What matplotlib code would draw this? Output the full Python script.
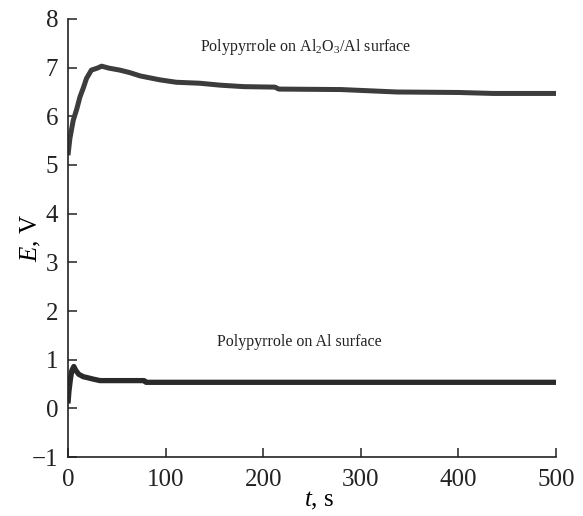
import matplotlib
matplotlib.use("Agg")
import matplotlib.pyplot as plt

plt.rcParams['font.family'] = ['Liberation Serif', 'DejaVu Serif']
plt.rcParams['mathtext.fontset'] = 'custom'
plt.rcParams['mathtext.rm'] = 'Liberation Serif'
plt.rcParams['mathtext.it'] = 'Liberation Serif:italic'

# Polypyrrole on Al2O3/Al surface
t_oxide = [0, 2, 5.4, 9, 12.3, 16, 19, 24, 30, 34.5, 42, 53, 63, 74, 84, 94, 111, 135,
           156, 180, 212, 216, 280, 337, 400, 436, 470, 500]
E_oxide = [5.2, 5.55, 5.92, 6.15, 6.40, 6.6, 6.78, 6.95, 6.99, 7.03, 6.99, 6.95, 6.9,
           6.83, 6.79, 6.75, 6.70, 6.68, 6.64, 6.61, 6.60, 6.56, 6.55, 6.50, 6.49, 6.47,
           6.47, 6.47]

# Polypyrrole on Al surface
t_al = [0, 1, 2.5, 4, 6, 8, 11, 15.7, 20, 26, 32.8, 50, 78, 80, 150, 300, 500]
E_al = [0.1, 0.35, 0.6, 0.78, 0.86, 0.78, 0.70, 0.65, 0.63, 0.60, 0.57, 0.57, 0.57,
        0.535, 0.535, 0.535, 0.535]

xticks = [0, 100, 200, 300, 400, 500]
yticks = [-1, 0, 1, 2, 3, 4, 5, 6, 7, 8]

fig = plt.figure(figsize=(5.83, 5.16), dpi=100)
ax = fig.add_axes([0.1166, 0.1143, 0.8371, 0.8489])

ax.plot(t_oxide, E_oxide, color='#3c3c3c', lw=3.6, solid_capstyle='butt')
ax.plot(t_al, E_al, color='#2a2a2a', lw=3.8, solid_capstyle='butt')

ax.set_xlim(0, 500)
ax.set_ylim(-1, 8)
ax.set_xticks(xticks)
ax.set_yticks(yticks)
ax.set_yticklabels(['\u2212' + str(-v) if v < 0 else str(v) for v in yticks])

for s in ['top', 'right']:
    ax.spines[s].set_visible(False)
for s in ['left', 'bottom']:
    ax.spines[s].set_linewidth(1.2)
    ax.spines[s].set_color('#222222')

ax.tick_params(direction='in', length=6.5, width=1.1, labelsize=18, pad=7,
               colors='#222222')
ax.tick_params(axis='x', pad=8.5)

ax.set_xlabel('$t$, s', fontsize=18, labelpad=1.5)
ax.xaxis.set_label_coords(0.515, -0.075)
ax.set_ylabel('$E$, V', fontsize=18, labelpad=-8)

ax.text(244, 7.42, 'Polypyrrole on Al$_2$O$_3$/Al surface', fontsize=11.5,
        ha='center', va='center', color='#222222')
ax.text(237, 1.36, 'Polypyrrole on Al surface', fontsize=11.5,
        ha='center', va='center', color='#222222')

fig.savefig('out.png', dpi=100)
